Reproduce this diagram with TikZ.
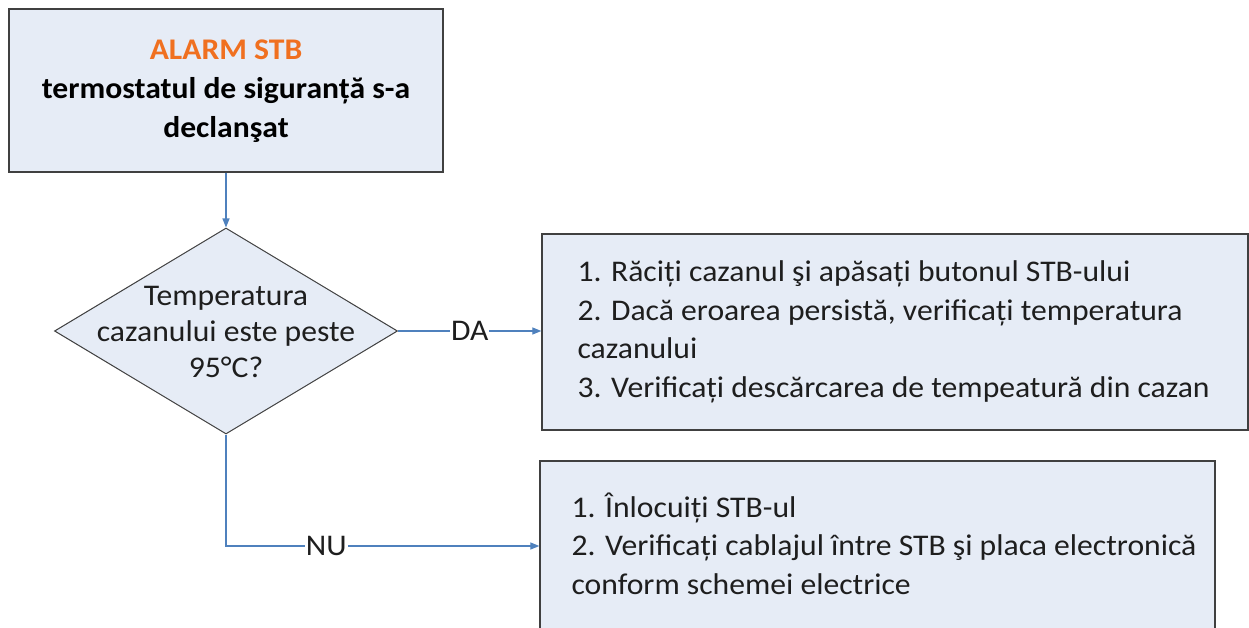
\documentclass[tikz,border=0pt]{standalone}
\usepackage{fontspec}
\setmainfont{Carlito}[FakeStretch=1.055]
\usetikzlibrary{arrows.meta,shapes.geometric}
\definecolor{boxfill}{RGB}{230,236,246}
\definecolor{boxline}{RGB}{64,64,64}
\definecolor{flowblue}{RGB}{79,129,189}
\definecolor{alarmorange}{RGB}{240,112,32}
\definecolor{inkgray}{RGB}{30,30,30}

\begin{document}
\begin{tikzpicture}[x=1pt, y=1pt,
        box/.style={draw=boxline, fill=boxfill, line width=1.3pt, rectangle, inner sep=0pt},
        question/.style={draw=boxline, fill=boxfill, line width=1pt, diamond, inner sep=0pt},
        txt/.style={text=inkgray, font=\fontsize{30}{38.5}\selectfont, inner sep=0pt},
        flow/.style={draw=flowblue, line width=1.2pt, -{Triangle[length=9pt, width=7pt]}},
        answer/.style={txt, fill=white, inner xsep=1pt, inner ysep=2pt}]
        \useasboundingbox (0, 0) rectangle (1249, -628);
        \clip (0, 0) rectangle (1249, -628);

        \node[box, minimum width=434, minimum height=163] (alarm) at (226, -90.5) {};
        \node[question, minimum width=343, minimum height=206] (temp) at (226, -331) {};
        \node[box, minimum width=706, minimum height=196] (cool) at (895, -332) {};
        \node[box, minimum width=675, minimum height=190] (wiring) at (877.5, -556) {};

        \node[txt, text=black, align=center, font=\bfseries\fontsize{30}{39}\selectfont] at ([yshift=-1] alarm)
            {\textcolor{alarmorange}{ALARM STB}\\termostatul de siguranță s-a\\declanşat};
        \node[txt, align=center, font=\fontsize{30}{36}\selectfont] at ([yshift=-1] temp) {Temperatura\\cazanului este peste\\95°C?};
        \node[txt, align=left, anchor=west] at ([xshift=36] cool.west)
            {1. Răciți cazanul şi apăsați butonul STB-ului\\2. Dacă eroarea persistă, verificați temperatura\\cazanului\\3. Verificați descărcarea de tempeatură din cazan};
        \node[txt, align=left, anchor=north west] at ([xshift=32, yshift=-32] wiring.north west)
            {1. Înlocuiți STB-ul\\2. Verificați cablajul între STB şi placa electronică\\conform schemei electrice};

        \coordinate (bend) at (temp.south |- 0, -546);

        \draw[flow] (alarm) -- (temp);
        \draw[flow] (temp.east) -- node[answer]{DA} (temp.east -| cool.west);
        \draw[flow] (temp.south) -- (bend) -- node[answer, pos=0.32]{NU} (bend -| wiring.west);
    \end{tikzpicture}
\end{document}
